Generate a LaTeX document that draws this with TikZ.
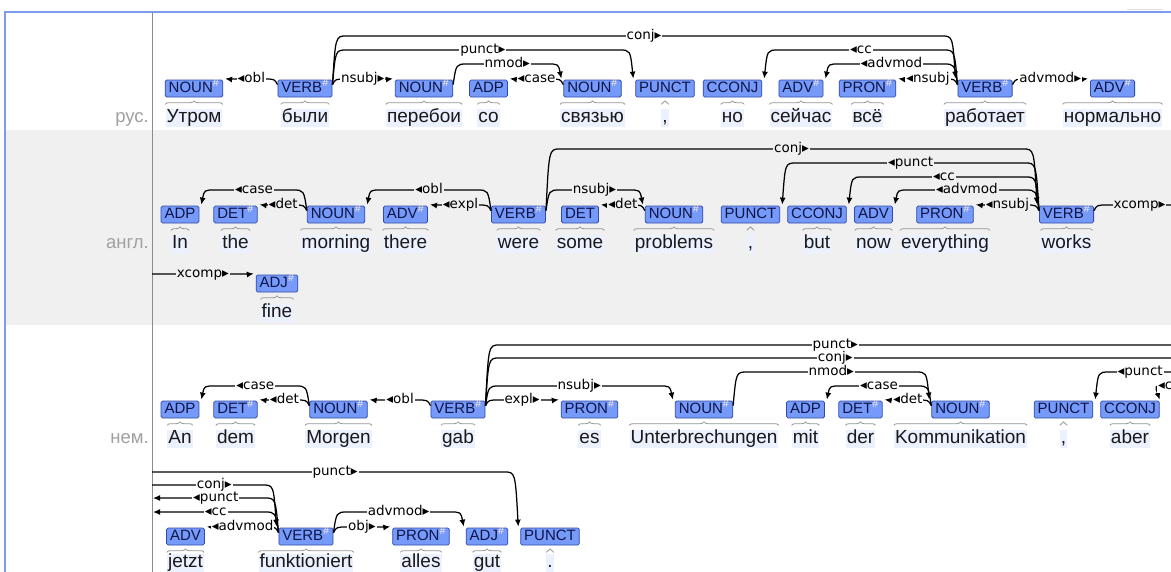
\documentclass[tikz,border=0pt]{standalone}
\usepackage{fontspec}
\setmainfont{Liberation Sans}
\newfontfamily\dvfont{DejaVu Sans}
\usetikzlibrary{arrows.meta,calc,decorations.pathreplacing}
\definecolor{tagfill}{RGB}{118,154,250}
\definecolor{tagdraw}{RGB}{50,75,170}
\definecolor{tagtext}{RGB}{15,20,70}
\definecolor{hashc}{RGB}{255,240,225}
\definecolor{wordbg}{RGB}{236,241,255}
\definecolor{wordtext}{RGB}{25,25,25}
\definecolor{rowgrey}{RGB}{240,240,240}
\definecolor{framec}{RGB}{125,155,235}
\definecolor{sepc}{RGB}{140,140,140}
\definecolor{rowlabc}{RGB}{160,160,160}
\definecolor{bracec}{RGB}{150,150,150}
\colorlet{labbgc}{white}
\newcommand\hs{\textsuperscript{\color{hashc}\#}}
\newcommand\wordoff{29}
\tikzset{
  tag/.style={draw=tagdraw, fill=tagfill, rounded corners=1.5pt, line width=0.8pt,
    inner xsep=3.5pt, inner ysep=1.5pt, text height=10.5pt, text depth=3.5pt,
    text=tagtext, font=\fontsize{15}{17}\selectfont},
  word/.style={fill=wordbg, inner xsep=1pt, inner ysep=0.5pt, text height=13pt, text depth=4pt,
    text=wordtext, font=\fontsize{19}{22}\selectfont},
  rowlab/.style={inner sep=0pt, text height=13pt, text depth=4pt, text=rowlabc,
    font=\fontsize{18.5}{22}\selectfont, anchor=east},
  lab/.style={fill=labbgc, inner xsep=1pt, inner ysep=0.5pt, text height=9.5pt, text depth=2.5pt,
    font=\dvfont\fontsize{13.5}{15}\selectfont, text=black},
  arcl/.style={draw=black, line width=1.25pt, -{Latex[length=7pt,width=6pt]}},
  brc/.style={draw=bracec, line width=0.8pt, decorate, decoration={brace, amplitude=3.5pt}}
}
% token: name, x, y(tag centre), tag text, word
\newcommand\tok[5]{%
  \node[tag] (#1) at (#2,#3) {#4};
  \node[word] (w#1) at (#2,#3+\wordoff) {#5};
  \draw[brc] let \p1=(w#1.west), \p2=(w#1.east), \p3=(#1.south) in (\x1,\y3-7pt) -- (\x2,\y3-7pt);
}
% arc to the right: source point, target point, level, label
\newcommand\arcR[4]{%
  \draw[arcl] let \p1=(#1), \p2=(#2), \p3=(0,#3) in
    (\p1) .. controls (\x1+3pt,\y3) .. (\x1+14pt,\y3) -- (\x2-14pt,\y3)
    .. controls (\x2-3pt,\y3) .. (\p2);
  \path let \p1=(#1), \p2=(#2), \p3=(0,#3) in node[lab] at ({(\x1+\x2)/2},\y3) {#4};
}
% arc to the left
\newcommand\arcL[4]{%
  \draw[arcl] let \p1=(#1), \p2=(#2), \p3=(0,#3) in
    (\p1) .. controls (\x1-3pt,\y3) .. (\x1-14pt,\y3) -- (\x2+14pt,\y3)
    .. controls (\x2+3pt,\y3) .. (\p2);
  \path let \p1=(#1), \p2=(#2), \p3=(0,#3) in node[lab] at ({(\x1+\x2)/2},\y3) {#4};
}
\newcommand\depR[4]{\arcR{[yshift=-5pt]#1.north east}{[xshift=-2pt,yshift=1pt]#2.north west}{#3}{#4}}
\newcommand\depL[4]{\arcL{[yshift=-5pt]#1.north west}{[xshift=2pt,yshift=1pt]#2.north east}{#3}{#4}}

\begin{document}
\begin{tikzpicture}[x=1pt,y=-1pt]
\useasboundingbox (0,0) rectangle (1171,571);
\clip (0,0) rectangle (1171,571);
\fill[white] (0,0) rectangle (1171,571);
\fill[rowgrey] (5,130) rectangle (1171,325);
\draw[framec, line width=1.5pt] (5,575) -- (5,12) -- (1175,12);
\draw[sepc, line width=0.8pt] (152,12) -- (152,575);
\draw[gray!25, line width=1pt] (1127,9) -- (1163,9);

% row labels
\node[rowlab] (l1) at (149,117.5) {рус.};
\node[rowlab] (l2) at (149,243.5) {англ.};
\node[rowlab] (l3) at (149,438.5) {нем.};

% ---------- Russian ----------
\tok{ra}{194}{88.5}{NOUN\hs}{Утром}
\tok{rb}{305}{88.5}{VERB\hs}{были}
\tok{rc}{424}{88.5}{NOUN\hs}{перебои}
\tok{rd}{488.5}{88.5}{ADP}{со}
\tok{re}{592.5}{88.5}{NOUN\hs}{связью}
\tok{rf}{665}{88.5}{PUNCT}{,}
\tok{rg}{732.5}{88.5}{CCONJ}{но}
\tok{rh}{801}{88.5}{ADV\hs}{сейчас}
\tok{ri}{867.5}{88.5}{PRON\hs}{всё}
\tok{rj}{985}{88.5}{VERB\hs}{работает}
\tok{rk}{1112.5}{88.5}{ADV\hs}{нормально}

\colorlet{labbgc}{white}
\depL{rb}{ra}{79}{◂obl}
\depR{rb}{rc}{79}{nsubj▸}
\depR{rb}{rf}{50}{punct▸}
\depR{rb}{rj}{36}{conj▸}
\depR{rc}{re}{64}{nmod▸}
\depL{re}{rd}{79}{◂case}
\depL{rj}{rg}{50}{◂cc}
\depL{rj}{rh}{64}{◂advmod}
\depL{rj}{ri}{79}{◂nsubj}
\depR{rj}{rk}{79}{advmod▸}

% ---------- English ----------
\tok{ea}{180}{214.5}{ADP}{In}
\tok{eb}{235.5}{214.5}{DET\hs}{the}
\tok{ec}{336}{214.5}{NOUN\hs}{morning}
\tok{ed}{405.5}{214.5}{ADV\hs}{there}
\tok{ee}{518.5}{214.5}{VERB\hs}{were}
\tok{ef}{580}{214.5}{DET}{some}
\tok{eg}{674}{214.5}{NOUN\hs}{problems}
\tok{eh}{750.5}{214.5}{PUNCT}{,}
\tok{ei}{817}{214.5}{CCONJ}{but}
\tok{ej}{873.5}{214.5}{ADV}{now}
\tok{ek}{945}{214.5}{PRON\hs}{everything}
\tok{el}{1066.5}{214.5}{VERB\hs}{works}
\tok{em}{277}{283.5}{ADJ\hs}{fine}

\colorlet{labbgc}{rowgrey}
\depL{ec}{ea}{190}{◂case}
\depL{ec}{eb}{205}{◂det}
\depL{ee}{ec}{190}{◂obl}
\depL{ee}{ed}{205}{◂expl}
\depR{ee}{el}{149}{conj▸}
\depR{ee}{eg}{190}{nsubj▸}
\depL{eg}{ef}{205}{◂det}
\depL{el}{eh}{163}{◂punct}
\depL{el}{ei}{177}{◂cc}
\depL{el}{ej}{190}{◂advmod}
\depL{el}{ek}{205}{◂nsubj}
\coordinate (xr) at (1185,205);
\coordinate (xl) at (152,274);
\arcR{[yshift=-5pt]el.north east}{xr}{205}{xcomp▸}
\arcR{xl}{[xshift=-2pt,yshift=1pt]em.north west}{274}{xcomp▸}

% ---------- German ----------
\tok{ga}{180}{409.5}{ADP}{An}
\tok{gb}{235.5}{409.5}{DET\hs}{dem}
\tok{gc}{338.5}{409.5}{NOUN\hs}{Morgen}
\tok{gd}{458}{409.5}{VERB\hs}{gab}
\tok{ge}{589.5}{409.5}{PRON\hs}{es}
\tok{gf}{704}{409.5}{NOUN\hs}{Unterbrechungen}
\tok{gg}{805.5}{409.5}{ADP}{mit}
\tok{gh}{860.5}{409.5}{DET\hs}{der}
\tok{gi}{960.5}{409.5}{NOUN\hs}{Kommunikation}
\tok{gj}{1063.5}{409.5}{PUNCT}{,}
\tok{gk}{1130}{409.5}{CCONJ}{aber}

\renewcommand\wordoff{26.5}
\tok{ha}{185.5}{536.5}{ADV}{jetzt}
\tok{hb}{306}{536.5}{VERB\hs}{funktioniert}
\tok{hc}{421}{536.5}{PRON\hs}{alles}
\tok{hd}{487}{536.5}{ADJ\hs}{gut}
\tok{he}{550}{536.5}{PUNCT}{.}

\colorlet{labbgc}{white}
\depL{gc}{ga}{386}{◂case}
\depL{gc}{gb}{400}{◂det}
\depL{gd}{gc}{400}{◂obl}
\depR{gd}{ge}{400}{expl▸}
\depR{gd}{gf}{386}{nsubj▸}
\coordinate (pr) at (1185,345);
\coordinate (cr) at (1185,358);
\coordinate (qr) at (1185,372);
\arcR{[yshift=-5pt]gd.north east}{pr}{345}{punct▸}
\arcR{[yshift=-5pt]gd.north east}{cr}{358}{conj▸}
\depR{gf}{gi}{372}{nmod▸}
\depL{gi}{gg}{386}{◂case}
\depL{gi}{gh}{400}{◂det}
\arcL{qr}{[xshift=2pt,yshift=1pt]gj.north east}{372}{◂punct}
\coordinate (ccr) at (1175,386);
\draw[arcl] (ccr) -- (1162,386) .. controls (1155,386) .. ([xshift=0pt,yshift=1pt]gk.north east);
\node[lab, anchor=west] (lcc) at (1157,386) {◂cc};

\coordinate (pl) at (152,472);
\coordinate (cl) at (152,485);
\coordinate (ql) at (153,498);
\coordinate (kl) at (153,512);
\arcR{pl}{[xshift=-2pt,yshift=1pt]he.north west}{472}{punct▸}
\arcR{cl}{[xshift=-2pt,yshift=1pt]hb.north west}{485}{conj▸}
\arcL{[yshift=-5pt]hb.north west}{ql}{498}{◂punct}
\arcL{[yshift=-5pt]hb.north west}{kl}{512}{◂cc}
\depL{hb}{ha}{527}{◂advmod}
\depR{hb}{hd}{512}{advmod▸}
\depR{hb}{hc}{527}{obj▸}
\end{tikzpicture}
\end{document}
